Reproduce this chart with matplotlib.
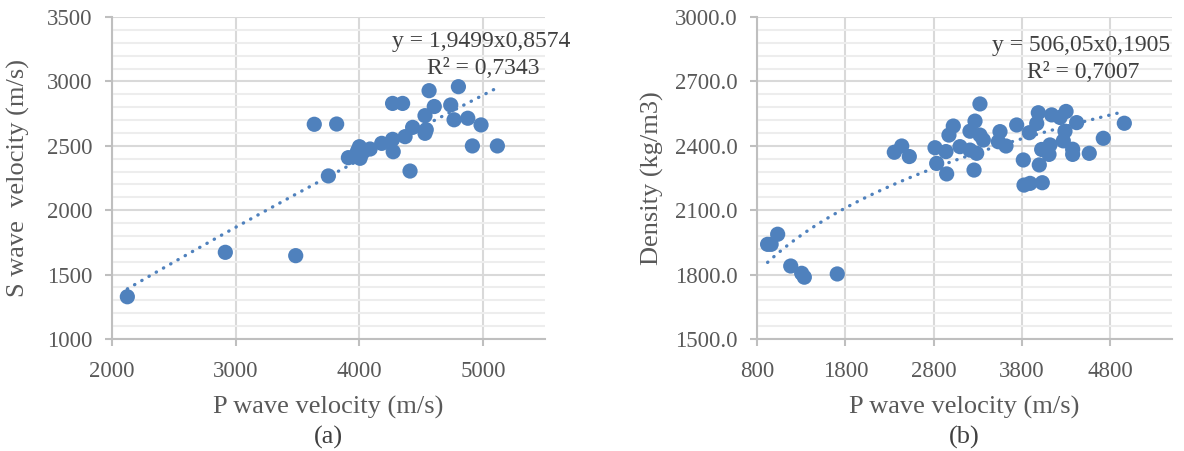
import numpy as np
import matplotlib
matplotlib.use("Agg")
import matplotlib.pyplot as plt
from matplotlib.ticker import MultipleLocator, FormatStrFormatter

plt.rcParams["font.family"] = ["Liberation Serif", "DejaVu Serif"]

# (a) P wave vs S wave velocity
vp_a = [2124, 2916, 3485, 3635, 3816, 3749, 3911, 4000, 4005, 3985, 4020, 4086,
        4180, 4268, 4273, 4268, 4349, 4409, 4369, 4430, 4530, 4530, 4540, 4563,
        4605, 4738, 4800, 4765, 4876, 4983, 4913, 5115]
vs_a = [1328, 1673, 1647, 2667, 2669, 2266, 2408, 2493, 2403, 2460, 2440, 2475,
        2519, 2550, 2454, 2829, 2829, 2304, 2571, 2643, 2734, 2597, 2625, 2928,
        2805, 2817, 2959, 2702, 2714, 2662, 2499, 2499]
coef_a = (1.9499, 0.8574)
eq_a = "y = 1,9499x0,8574"
r2_a = "R² = 0,7343"

# (b) P wave velocity vs density
vp_b = [920, 960, 1034, 1182, 1306, 1336, 1709, 2355, 2439, 2525, 2816, 2835,
        2948, 2940, 2974, 3023, 3099, 3212, 3212, 3269, 3325, 3258, 3288, 3363,
        3325, 3552, 3533, 3620, 3741, 3884, 3816, 3986, 3968, 3997, 3824, 3892,
        4031, 4024, 4118, 4107, 4137, 4232, 4300, 4288, 4269, 4420, 4375, 4375,
        4563, 4722, 4960]
rho_b = [1941, 1941, 1988, 1840, 1806, 1788, 1803, 2370, 2399, 2350, 2391, 2318,
         2269, 2373, 2450, 2492, 2396, 2380, 2468, 2515, 2595, 2287, 2365, 2427,
         2450, 2466, 2419, 2399, 2497, 2461, 2334, 2554, 2504, 2311, 2217, 2225,
         2228, 2383, 2404, 2360, 2544, 2532, 2560, 2468, 2423, 2508, 2384, 2360,
         2365, 2435, 2505]
coef_b = (506.05, 0.1905)
eq_b = "y = 506,05x0,1905"
r2_b = "R² = 0,7007"

xticks_a = [2000, 3000, 4000, 5000]
xticks_b = [800, 1800, 2800, 3800, 4800]

blue = "#4f81bd"
tick_c = "#595959"
grid_major = "#d9d9d9"
grid_minor = "#ededed"

fig = plt.figure(figsize=(11.84, 4.51), dpi=100)
W, H = 1184, 451


def style_axes(ax, xlim, ylim, xticks, ymaj, ymin, yfmt):
    ax.set_xlim(*xlim)
    ax.set_ylim(*ylim)
    ax.set_xticks(xticks)
    ax.yaxis.set_major_locator(MultipleLocator(ymaj))
    ax.yaxis.set_minor_locator(MultipleLocator(ymin))
    ax.yaxis.set_major_formatter(FormatStrFormatter(yfmt))
    ax.grid(True, which="major", color=grid_major, lw=1.5, zorder=0)
    ax.grid(True, which="minor", axis="y", color=grid_minor, lw=1.5, zorder=0)
    ax.set_axisbelow(True)
    for s in ["top", "right"]:
        ax.spines[s].set_visible(False)
    for s in ["left", "bottom"]:
        ax.spines[s].set_color("#bfbfbf")
        ax.spines[s].set_linewidth(1.5)
    ax.tick_params(which="major", colors="#bfbfbf", labelcolor=tick_c,
                   labelsize=16.5, length=5, width=1.5, direction="out")
    ax.tick_params(axis="x", pad=11)
    ax.tick_params(axis="y", pad=9)
    ax.tick_params(which="minor", length=0)


def panel(rect, x, y, coef, eq, r2, xlim, ylim, xticks, ymaj, ymin, yfmt,
          xlabel, ylabel, cap, eqpos, ylabpos):
    l, t, r, b = rect
    ax = fig.add_axes([l / W, 1 - b / H, (r - l) / W, (b - t) / H])
    style_axes(ax, xlim, ylim, xticks, ymaj, ymin, yfmt)
    xs = np.linspace(min(x), max(x), 200)
    ax.plot(xs, coef[0] * xs ** coef[1], color=blue, lw=2.4,
            linestyle=(0, (0.1, 2.4)), dash_capstyle="round", zorder=2)
    ax.scatter(x, y, s=120, color=blue, edgecolors="none", zorder=3,
               clip_on=False)
    ax.text(eqpos[0] / W, 1 - eqpos[1] / H, eq, transform=fig.transFigure,
            fontsize=17, color="#404040", ha="center", va="center")
    ax.text(eqpos[0] / W + 0.002, 1 - (eqpos[1] + 27) / H, r2,
            transform=fig.transFigure, fontsize=17, color="#404040",
            ha="center", va="center")
    fig.text((l + r) / 2 / W, 1 - 407 / H, xlabel, fontsize=19,
             color=tick_c, ha="center", va="center")
    fig.text((l + r) / 2 / W, 1 - 437 / H, cap, fontsize=19,
             color="#404040", ha="center", va="center")
    fig.text(ylabpos / W, 1 - (t + b) / 2 / H, ylabel, fontsize=19,
             color=tick_c, ha="center", va="center", rotation=90)
    return ax


panel((112, 17, 545, 339), vp_a, vs_a, coef_a, eq_a, r2_a,
      (2000, 5500), (1000, 3500), xticks_a, 500, 100, "%d",
      "P wave velocity (m/s)", "S wave  velocity (m/s)", "(a)",
      (481, 42), 18)

panel((757, 17, 1172, 339), vp_b, rho_b, coef_b, eq_b, r2_b,
      (800, 5500), (1500, 3000), xticks_b, 300, 60, "%.1f",
      "P wave velocity (m/s)", "Density (kg/m3)", "(b)",
      (1081, 45), 652)

fig.savefig("out.png", dpi=100)
